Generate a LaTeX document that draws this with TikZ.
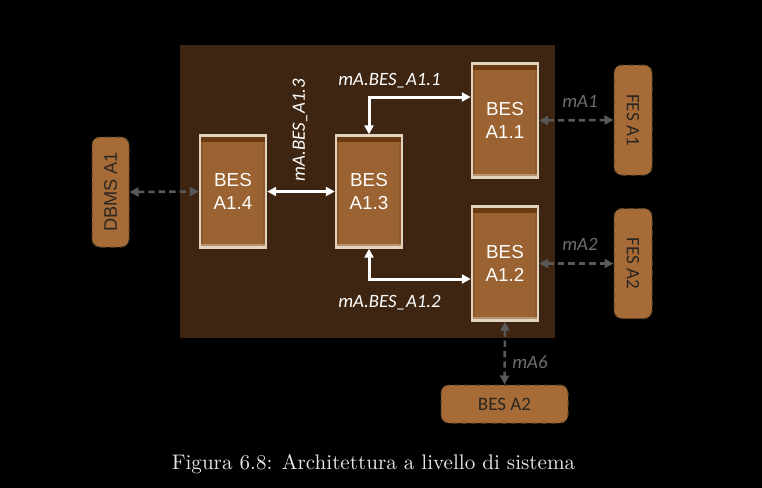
\documentclass[tikz,border=0pt]{standalone}
\usepackage{fontspec}
\newfontfamily\arialf{Liberation Sans}
\newfontfamily\calf{Carlito}
\usetikzlibrary{calc,arrows.meta}
\definecolor{panel}{HTML}{3D2511}
\definecolor{boxfill}{HTML}{9B6331}
\definecolor{boxedge}{HTML}{E2D2C0}
\definecolor{boxtop}{HTML}{6A3A12}
\definecolor{boxside}{HTML}{8C582C}
\definecolor{extfill}{HTML}{A66B36}
\definecolor{extedge}{HTML}{5A4228}
\definecolor{darktext}{HTML}{2A2622}
\definecolor{grayarrow}{HTML}{595959}
\definecolor{graylabel}{HTML}{6E6E6E}
\definecolor{captext}{HTML}{E6E6E6}
\tikzset{
  besbox/.style={rectangle, fill=boxfill, draw=boxedge, line width=1.2pt,
    minimum width=33pt, minimum height=56pt, inner sep=0pt,
    align=center, text=white, font=\arialf\fontsize{9.4}{11.2}\selectfont,
    path picture={
      \fill[boxside] ([xshift=0.6pt,yshift=-0.6pt]path picture bounding box.north west) rectangle ([xshift=1.6pt,yshift=0.6pt]path picture bounding box.south west);
      \fill[boxside] ([xshift=-0.6pt,yshift=-0.6pt]path picture bounding box.north east) rectangle ([xshift=-1.6pt,yshift=0.6pt]path picture bounding box.south east);
      \fill[boxtop] ([xshift=0.6pt,yshift=-0.6pt]path picture bounding box.north west) rectangle ([xshift=-0.6pt,yshift=-3pt]path picture bounding box.north east);
      \fill[boxfill!70!white] ([xshift=0.6pt,yshift=0.6pt]path picture bounding box.south west) rectangle ([xshift=-0.6pt,yshift=1.8pt]path picture bounding box.south east);
    }},
  extbox/.style={rectangle, rounded corners=4pt, fill=extfill, draw=extedge,
    densely dashed, line width=0.5pt, inner sep=0pt, text=darktext},
  warrow/.style={draw=white, line width=1.5pt, {Triangle[length=4.5pt,width=4.5pt]}-{Triangle[length=4.5pt,width=4.5pt]}},
  garrow/.style={draw=grayarrow, line width=1.3pt, dash pattern=on 3.2pt off 2pt,
    {Triangle[length=4.5pt,width=4.5pt]}-{Triangle[length=4.5pt,width=4.5pt]}},
  wlabel/.style={text=white, font=\calf\itshape\fontsize{9.4}{11}\selectfont, inner sep=0pt},
  glabel/.style={text=graylabel, font=\calf\itshape\fontsize{9.4}{11}\selectfont, inner sep=0pt}
}
\begin{document}
\begin{tikzpicture}[x=0.5pt,y=-0.5pt]
\fill[black] (0,0) rectangle (762,488);
\useasboundingbox (0,0) rectangle (762,488);
\fill[panel] (180,45) rectangle (555,338);

\node[besbox] (a14) at (233,191.5) {BES\\A1.4};
\node[besbox] (a13) at (369,191.5) {BES\\A1.3};
\node[besbox, minimum height=57pt] (a11) at (505,120.5) {BES\\A1.1};
\node[besbox, minimum height=57pt] (a12) at (505,263.5) {BES\\A1.2};

\node[extbox, minimum width=19pt, minimum height=55pt] (fes1) at (633,120)
  {\rotatebox{-90}{\calf\fontsize{9.5}{11}\selectfont FES A1}};
\node[extbox, minimum width=19pt, minimum height=55pt] (fes2) at (633,263.5)
  {\rotatebox{-90}{\calf\fontsize{9.5}{11}\selectfont FES A2}};
\node[extbox, minimum width=18.5pt, minimum height=55pt] (dbms) at (110.5,192)
  {\rotatebox{90}{\arialf\fontsize{9.1}{11}\selectfont DBMS A1}};
\node[extbox, minimum width=63.5pt, minimum height=19pt,
  font=\calf\fontsize{9.5}{11}\selectfont] (besa2) at (504.5,404) {BES A2};

\draw[warrow] (a14.east) -- (a13.west);
\draw[warrow] (a13.north) |- ($(a11.west)+(0,-23.5)$);
\draw[warrow] (a13.south) |- ($(a12.west)+(0,15.5)$);

\draw[garrow] (dbms.east) -- (a14.west);
\draw[garrow] (a11.east) -- (fes1.west);
\draw[garrow] (a12.east) -- (fes2.west);
\draw[garrow] (a12.south) -- (besa2.north);

\node[wlabel] (l11) at (389.5,81) {mA.BES\_A1.1};
\node[wlabel] (l12) at (389.5,303) {mA.BES\_A1.2};
\node[wlabel, rotate=90] (l13) at (300,130) {mA.BES\_A1.3};
\node[glabel] (m1) at (580,101) {mA1};
\node[glabel] (m2) at (580,244) {mA2};
\node[glabel] (m6) at (530,362) {mA6};

\node[text=captext, inner sep=0pt, font=\fontsize{10.55}{12.5}\selectfont] (cap) at (373.5,464) {Figura 6.8: Architettura a livello di sistema};
\end{tikzpicture}
\end{document}
